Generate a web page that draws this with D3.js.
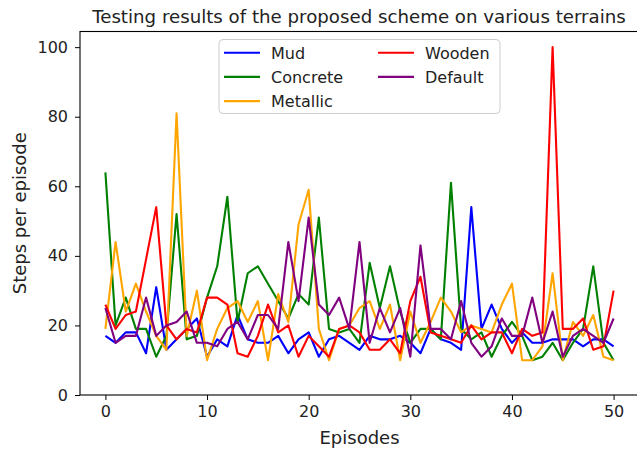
<!DOCTYPE html>
<html>
<head>
<meta charset="utf-8">
<script src="https://cdn.jsdelivr.net/npm/d3@7"></script>
<style>
  html, body { margin: 0; padding: 0; background: #fff; }
  svg { display: block; font-family: "DejaVu Sans", sans-serif; }
</style>
</head>
<body>
<svg id="chart" width="637" height="450"></svg>
<script>
const episodes = d3.range(0, 51);
const mud = [17,15,18,18,12,31,13,16,19,22, 11,16,14,23,16,15,15,17,12,16, 18,11,16,17,15,13,17,16,16,17, 15,12,19,16,15,13,54,19,26,19, 15,18,15,15,16,16,16,14,16,16,14];
const concrete = [64,20,28,19,19,11,17,52,16,17, 28,37,57,21,35,37,32,27,22,29, 26,51,19,18,19,15,38,25,37,24, 15,19,19,16,61,19,16,18,11,17, 21,17,10,11,15,10,15,19,37,15,10];
const metallic = [19,44,24,32,24,17,13,81,17,30, 10,19,25,27,21,27,10,29,21,49, 59,19,10,19,20,25,27,19,26,10, 24,15,21,28,24,18,20,19,18,26, 32,10,10,14,35,10,21,17,23,11,10];
const wooden = [26,19,23,24,39,54,20,16,19,18, 28,28,26,12,11,17,26,18,20,11, 17,14,11,19,20,18,13,13,16,12, 27,34,18,17,16,15,20,16,18,18, 12,19,17,18,100,19,19,22,13,14,30];
const defaultT = [25,15,17,17,28,17,20,21,24,15, 15,14,19,21,16,23,23,19,44,27, 51,26,23,28,19,44,15,25,18,25, 11,43,19,19,16,27,15,11,14,22, 17,17,28,15,24,11,17,19,17,15,22];

const seriesNames = ["Mud", "Concrete", "Metallic", "Wooden", "Default"];
const seriesColors = ["#0000ff", "#008000", "#ffa500", "#ff0000", "#800080"];
const seriesValues = [mud, concrete, metallic, wooden, defaultT];
const xTicks = [0, 10, 20, 30, 40, 50];
const yTicks = [0, 20, 40, 60, 80, 100];

const svg = d3.select("#chart");
const L = 80, R = 639, T = 31.5, B = 395;

const x = d3.scaleLinear().domain([-2.5, 52.5]).range([L, R]);
const y = d3.scaleLinear().domain([0, 104.5]).range([B, T]);

// lines
const line = d3.line().x((d, i) => x(episodes[i])).y(d => y(d));
const g = svg.append("g");
seriesValues.forEach((vals, k) => {
  g.append("path")
    .datum(vals)
    .attr("fill", "none")
    .attr("stroke", seriesColors[k])
    .attr("stroke-width", 2.1)
    .attr("stroke-linejoin", "round")
    .attr("d", line);
});

// frame
svg.append("rect").attr("x", L).attr("y", T).attr("width", R - L).attr("height", B - T)
  .attr("fill", "none").attr("stroke", "#000").attr("stroke-width", 1.1);

// axes
const xAxis = svg.append("g").attr("transform", `translate(0,${B})`)
  .call(d3.axisBottom(x).tickValues(xTicks).tickSize(5).tickPadding(6).tickFormat(d3.format("d")));
const yAxis = svg.append("g").attr("transform", `translate(${L},0)`)
  .call(d3.axisLeft(y).tickValues(yTicks).tickSize(5).tickPadding(7).tickFormat(d3.format("d")));
[xAxis, yAxis].forEach(a => {
  a.select(".domain").remove();
  a.selectAll(".tick line").attr("stroke", "#000").attr("stroke-width", 1);
  a.selectAll(".tick text").attr("fill", "#222").style("font-size", "16px").style("font-family", "DejaVu Sans");
});

// title and labels
svg.append("text").attr("x", (L + R) / 2 - 0.5).attr("y", 23).attr("text-anchor", "middle")
  .style("font-size", "18.2px").attr("fill", "#222").text("Testing results of the proposed scheme on various terrains");
svg.append("text").attr("x", (L + R) / 2).attr("y", 444).attr("text-anchor", "middle")
  .style("font-size", "18px").attr("fill", "#222").text("Episodes");
svg.append("text").attr("transform", `translate(26,${(T + B) / 2}) rotate(-90)`).attr("text-anchor", "middle")
  .style("font-size", "18px").attr("fill", "#222").text("Steps per episode");

// legend
const leg = svg.append("g");
leg.append("rect").attr("x", 219).attr("y", 39.5).attr("width", 281).attr("height", 74).attr("rx", 4)
  .attr("fill", "#fff").attr("fill-opacity", 0.8).attr("stroke", "#cccccc").attr("stroke-width", 1);
const legPos = [[0,0],[0,1],[0,2],[1,0],[1,1]];
seriesNames.forEach((name, k) => {
  const [c, r] = legPos[k];
  const lx = c === 0 ? 224 : 378;
  const ly = 52.7 + r * 24.2;
  leg.append("line").attr("x1", lx).attr("x2", lx + 36).attr("y1", ly).attr("y2", ly)
    .attr("stroke", seriesColors[k]).attr("stroke-width", 2.1);
  leg.append("text").attr("x", lx + 47).attr("y", ly + 5.8).style("font-size", "16px").attr("fill", "#222").text(name);
});
</script>
</body>
</html>
